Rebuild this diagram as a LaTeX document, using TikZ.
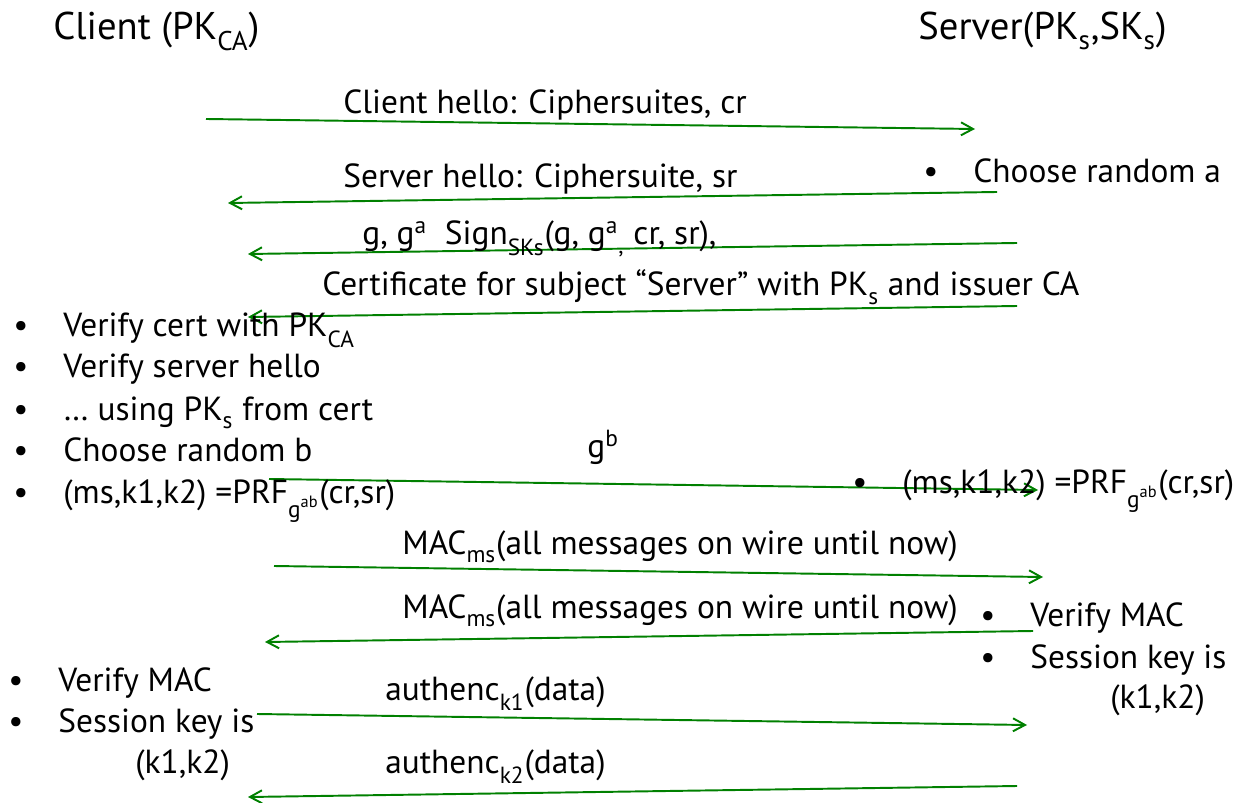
\documentclass[tikz,border=0pt]{standalone}
\usepackage{fontspec}
\setmainfont{PT Sans}
\usetikzlibrary{arrows.meta}
\definecolor{msggreen}{RGB}{0,128,0}
\newcommand{\bulitem}{\llap{\textbullet\hspace{7mm}}}
\newcommand{\lowsub}[1]{\raisebox{-0.12em}{\textsubscript{#1}}}
\begin{document}
\begin{tikzpicture}[x=0.02cm,y=-0.02cm]
    % Define basic styles
    \tikzset{
        txt/.style={
            anchor=base west,
            inner sep=0pt,
            font=\fontsize{19}{23}\selectfont
        },
        party/.style={
            txt,
            font=\fontsize{22}{26}\selectfont
        },
        msg/.style={
            draw=msggreen,
            line width=1.1pt,
            -{Straight Barb[length=2.4mm,width=2.6mm]}
        }
    }
    \useasboundingbox (0,0) rectangle (1250,803);

    % Parties
    \node[party] (client) at (53,39.5) {Client (PK\lowsub{CA})};
    \node[party] (server) at (918,39.5) {Server(PK\lowsub{s},SK\lowsub{s})};

    % Message end points
    \coordinate (hc) at (206,119);  \coordinate (hs) at (975,129);
    \coordinate (shs) at (997,192); \coordinate (shc) at (228,203);
    \coordinate (sgs) at (1017,243); \coordinate (sgc) at (248,254);
    \coordinate (crs) at (1017,306); \coordinate (crc) at (248,317);
    \coordinate (gbc) at (269,479); \coordinate (gbs) at (1038,490);
    \coordinate (m1c) at (274,566); \coordinate (m1s) at (1043,577);
    \coordinate (m2s) at (1033,631); \coordinate (m2c) at (265,642);
    \coordinate (a1c) at (257,714); \coordinate (a1s) at (1027,725);
    \coordinate (a2s) at (1017,786); \coordinate (a2c) at (248,797);

    % Messages
    \draw[msg] (hc) -- (hs);
    \draw[msg] (shs) -- (shc);
    \draw[msg] (sgs) -- (sgc);
    \draw[msg] (crs) -- (crc);
    \draw[msg] (gbc) -- (gbs);
    \draw[msg] (m1c) -- (m1s);
    \draw[msg] (m2s) -- (m2c);
    \draw[msg] (a1c) -- (a1s);
    \draw[msg] (a2s) -- (a2c);

    % Message labels
    \node[txt] (chello) at (343,114) {Client hello: Ciphersuites, cr};
    \node[txt] (shello) at (343,188) {Server hello: Ciphersuite, sr};
    \node[txt] (sign) at (362,245) {g, g\textsuperscript{a}\ \ Sign\lowsub{SKs}(g, g\textsuperscript{a}\lowsub{,} cr, sr),};
    \node[txt] (cert) at (322,296) {Certificate for subject “Server” with PK\lowsub{s} and issuer CA};
    \node[txt] (gb) at (587,458) {g\textsuperscript{b}};
    \node[txt] (mac1) at (402,554) {MAC\lowsub{ms}(all messages on wire until now)};
    \node[txt] (mac2) at (402,618) {MAC\lowsub{ms}(all messages on wire until now)};
    \node[txt] (auth1) at (385,700) {authenc\lowsub{k1}(data)};
    \node[txt] (auth2) at (385,773) {authenc\lowsub{k2}(data)};

    % Server side steps
    \node[txt] (randa) at (973,183) {\bulitem Choose random a};
    \node[txt] (sprf) at (902,493) {\bulitem (ms,k1,k2) =PRF\lowsub{g\textsuperscript{ab}}(cr,sr)};
    \node[txt] (smac) at (1030,626) {\bulitem Verify MAC};
    \node[txt] (skey) at (1030,668) {\bulitem Session key is};
    \node[txt] (skk) at (1110,708) {(k1,k2)};

    % Client side steps
    \node[txt] (vcert) at (63,337) {\bulitem Verify cert with PK\lowsub{CA}};
    \node[txt] (vhello) at (63,378) {\bulitem Verify server hello};
    \node[txt] (usepk) at (63,420) {\bulitem … using PK\lowsub{s} from cert};
    \node[txt] (randb) at (63,461) {\bulitem Choose random b};
    \node[txt] (cprf) at (63,503) {\bulitem (ms,k1,k2) =PRF\lowsub{g\textsuperscript{ab}}(cr,sr)};
    \node[txt] (cmac) at (58,691) {\bulitem Verify MAC};
    \node[txt] (ckey) at (58,732) {\bulitem Session key is};
    \node[txt] (ckk) at (135,773) {(k1,k2)};
\end{tikzpicture}
\end{document}
